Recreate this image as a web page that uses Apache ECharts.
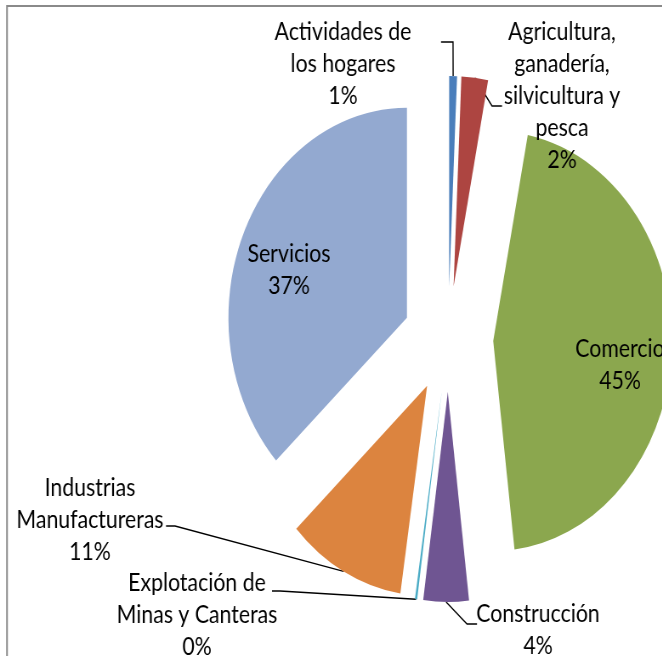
<!DOCTYPE html>
<html>
<head>
<meta charset="utf-8">
<title>Participación por sector</title>
<script src="https://cdn.jsdelivr.net/npm/echarts@6/dist/echarts.min.js"></script>
<style>
html, body { margin: 0; padding: 0; background: #fff; overflow: hidden; }
#marco { width: 662px; height: 656px; overflow: hidden; position: relative; }
/* el gráfico original está estirado: se dibuja más ancho y se comprime en X */
#grafico { width: 779px; height: 656px; position: absolute; left: 0; top: 0;
	transform: scaleX(0.85); transform-origin: 0 0; }
</style>
</head>
<body>
<div id="marco"><div id="grafico"></div></div>
<script>
// datos del gráfico
var sectores = [
	'Actividades de\nlos hogares',
	'Agricultura,\nganadería,\nsilvicultura y\npesca',
	'Comercio',
	'Construcción',
	'Explotación de\nMinas y Canteras',
	'Industrias\nManufactureras',
	'Servicios'
];
var valores = [0.7, 2.4, 45.0, 4.1, 0.2, 10.7, 36.9];
var colores = ['#4a7ebb', '#ad4541', '#8ba74e', '#6f5592', '#4bacc6', '#dc843f', '#93a9d0'];

// posición de cada etiqueta (centro, px de pantalla) y codo / fin de su línea guía
var etiquetaPos = [[343, 64], [562, 96], [620, 365], [538, 630], [197, 615], [90, 520], [289, 270]];
var etiquetaDentro = [false, false, true, false, false, false, true];
var guiaCodo = [[453, 42], [492, 106], null, [467, 624], [280, 591], [175, 526], null];
var guiaFin = [[441, 42], [502, 106], null, [477, 624], [272, 591], [166, 526], null];

var escalaX = 0.85;
var centro = [448.2 / escalaX, 339];
var radio = 210;
var separacion = 53;

function renderPie() {
	var myChart = echarts.init(document.getElementById('grafico'));
	var total = 0;
	for (var i = 0; i < valores.length; i++) total += valores[i];

	// ángulo medio de cada porción (desde las 12, sentido horario)
	var medios = [];
	var acum = 0;
	for (var i = 0; i < valores.length; i++) {
		medios.push((acum + valores[i] / 2) / total * Math.PI * 2);
		acum += valores[i];
	}

	var porciones = [];
	var etiquetas = [];
	for (var i = 0; i < sectores.length; i++) {
		porciones.push({
			name: sectores[i],
			value: valores[i],
			selected: true,
			itemStyle: { color: colores[i] }
		});
		etiquetas.push({
			name: sectores[i],
			value: valores[i],
			label: { position: etiquetaDentro[i] ? 'inside' : 'outside' },
			labelLine: { show: !etiquetaDentro[i] }
		});
	}

	var option = {
		animation: false,
		graphic: [{
			type: 'rect',
			shape: { x: 7 / escalaX, y: 6, width: 900, height: 720 },
			style: { fill: null, stroke: '#8a8a8a', lineWidth: 2 },
			silent: true
		}],
		series: [{
			name: 'Sectores',
			type: 'pie',
			center: centro,
			radius: radio,
			startAngle: 90,
			clockwise: true,
			selectedMode: 'multiple',
			selectedOffset: separacion,
			label: { show: false },
			labelLine: { show: false },
			emphasis: { disabled: true },
			data: porciones
		}, {
			// capa transparente que sólo lleva las etiquetas
			name: 'Etiquetas',
			type: 'pie',
			center: centro,
			radius: radio,
			startAngle: 90,
			clockwise: true,
			silent: true,
			avoidLabelOverlap: false,
			itemStyle: { color: 'rgba(0,0,0,0)' },
			emphasis: { disabled: true },
			label: {
				show: true,
				color: '#000',
				fontFamily: 'Lato, sans-serif',
				fontSize: 25,
				lineHeight: 32,
				align: 'center',
				formatter: function(params) {
					return params.name + '\n' + Math.round(params.percent) + '%';
				}
			},
			labelLine: {
				show: true,
				lineStyle: { color: '#000', width: 1.4 }
			},
			labelLayout: function(params) {
				var i = params.dataIndex;
				var p = etiquetaPos[i];
				var res = { x: p[0] / escalaX, y: p[1], align: 'center', verticalAlign: 'middle' };
				if (guiaCodo[i]) {
					var a = medios[i];
					var d = separacion + radio;
					var inicio = [centro[0] + Math.sin(a) * d, centro[1] - Math.cos(a) * d];
					res.labelLinePoints = [
						inicio,
						[guiaCodo[i][0] / escalaX, guiaCodo[i][1]],
						[guiaFin[i][0] / escalaX, guiaFin[i][1]]
					];
				}
				return res;
			},
			data: etiquetas
		}]
	};
	myChart.setOption(option);
	window.onresize = function() {
		myChart.resize();
	};
}

renderPie();
</script>
</body>
</html>
